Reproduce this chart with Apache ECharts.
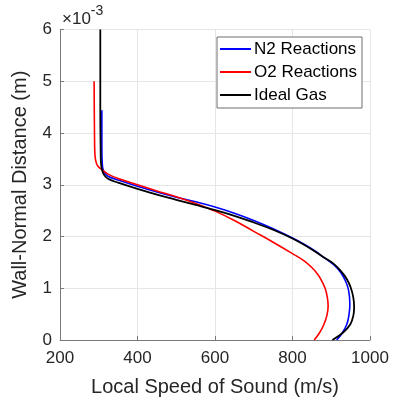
<!DOCTYPE html>
<html>
<head>
<meta charset="utf-8">
<script src="https://cdn.jsdelivr.net/npm/echarts@6/dist/echarts.min.js"></script>
<style>html,body{margin:0;padding:0;background:#fff}#c{width:396px;height:404px}</style>
</head>
<body>
<div id="c"></div>
<script>
// Local speed of sound (m/s) vs wall-normal distance (x10^-3 m)
const n2Reactions = [
  [914,0],[928,0.13],[940,0.30],[946,0.5],[948,0.7],[945,0.95],[938,1.12],[925,1.30],[907,1.45],
  [880,1.60],[858,1.72],[830,1.85],[800,1.97],[750,2.15],[700,2.31],[650,2.45],[600,2.57],
  [550,2.67],[500,2.76],[450,2.86],[400,2.97],[350,3.09],[325,3.16],[316,3.22],[311,3.30],
  [309,3.42],[308,3.7],[308,4.44]
];
const o2Reactions = [
  [856,0],[869,0.13],[881,0.30],[889,0.48],[892,0.66],[890,0.82],[885,0.98],[877,1.12],[865,1.27],
  [850,1.40],[830,1.53],[800,1.67],[750,1.89],[700,2.10],[650,2.31],[600,2.49],[550,2.64],
  [500,2.77],[450,2.88],[400,3.00],[350,3.12],[325,3.20],[312,3.27],[303,3.32],[296,3.38],
  [292,3.47],[290,3.6],[289,4.0],[288,5.0]
];
const idealGas = [
  [903,0],[930,0.14],[949,0.30],[957,0.47],[959,0.64],[957,0.82],[950,1.02],[940,1.18],[925,1.33],
  [905,1.48],[880,1.60],[850,1.75],[800,1.96],[750,2.13],[700,2.27],[650,2.40],[600,2.51],
  [550,2.61],[500,2.71],[450,2.81],[400,2.92],[350,3.04],[325,3.11],[315,3.18],[309,3.27],
  [306,3.40],[305,3.6],[304,4.5],[304,6.0]
];
const xTicks = [200, 400, 600, 800, 1000];
const yTicks = [0, 1, 2, 3, 4, 5, 6];
const seriesNames = ['N2 Reactions', 'O2 Reactions', 'Ideal Gas'];
const seriesColors = ['#0000ff', '#ff0000', '#000000'];

const FONT = 'Liberation Sans, Arial, sans-serif';
const chart = echarts.init(document.getElementById('c'), null, {renderer: 'canvas'});
const axisCommon = {
  axisLine: {show: true, lineStyle: {color: '#7a7a7a', width: 1}},
  axisTick: {show: true, inside: true, length: 4, lineStyle: {color: '#7a7a7a'}},
  splitLine: {show: true, lineStyle: {color: '#e6e6e6', width: 1}},
  axisLabel: {color: '#262626', fontSize: 17, fontFamily: FONT, formatter: v => String(v)},
  nameTextStyle: {color: '#262626', fontSize: 20, fontFamily: FONT}
};
chart.setOption({
  animation: false,
  backgroundColor: '#ffffff',
  grid: {left: 60, right: 26, top: 29.5, bottom: 64, containLabel: false},
  xAxis: Object.assign({}, axisCommon, {
    type: 'value', min: xTicks[0], max: xTicks[xTicks.length-1], interval: 200,
    name: 'Local Speed of Sound (m/s)', nameLocation: 'middle', nameGap: 37,
    axisLabel: Object.assign({}, axisCommon.axisLabel, {margin: 10})
  }),
  yAxis: Object.assign({}, axisCommon, {
    type: 'value', min: yTicks[0], max: yTicks[yTicks.length-1], interval: 1,
    name: 'Wall-Normal Distance (m)', nameLocation: 'middle', nameGap: 30,
    axisLabel: Object.assign({}, axisCommon.axisLabel, {margin: 8})
  }),
  legend: {
    orient: 'vertical', left: 217, top: 37,
    data: seriesNames.map(n => ({name: n, icon: 'rect'})),
    itemWidth: 31, itemHeight: 2, itemGap: 5,
    padding: [3, 5, 4, 3],
    borderColor: '#6e6e6e', borderWidth: 1, backgroundColor: '#ffffff',
    textStyle: {fontSize: 17, color: '#000', fontFamily: FONT, padding: [0,0,0,-2], lineHeight: 18}
  },
  graphic: [{
    type: 'text', left: 62, top: 4,
    style: {
      text: '{a|×10}{b|-3}',
      rich: {
        a: {fontSize: 17, fontFamily: FONT, fill: '#262626', padding: [7,0,0,0]},
        b: {fontSize: 14, fontFamily: FONT, fill: '#262626', verticalAlign: 'top'}
      }
    }
  }],
  series: [0, 1, 2].map(i => ({
    name: seriesNames[i], type: 'line',
    data: [n2Reactions, o2Reactions, idealGas][i],
    smooth: 0.4, symbol: 'none',
    lineStyle: {color: seriesColors[i], width: i === 2 ? 1.8 : 1.6},
    itemStyle: {color: seriesColors[i]}
  }))
});
</script>
</body>
</html>
